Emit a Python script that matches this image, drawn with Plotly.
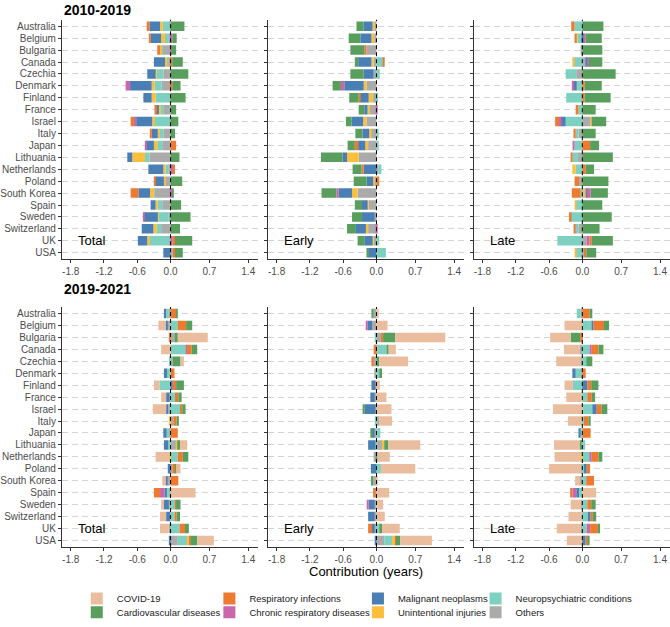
import plotly.graph_objects as go

countries = ["Australia", "Belgium", "Bulgaria", "Canada", "Czechia", "Denmark", "Finland",
             "France", "Israel", "Italy", "Japan", "Lithuania", "Netherlands", "Poland",
             "South Korea", "Spain", "Sweden", "Switzerland", "UK", "USA"]

causes = ["COVID-19", "Cardiovascular diseases", "Respiratory infections",
          "Chronic respiratory diseases", "Malignant neoplasms", "Unintentional injuries",
          "Neuropsychiatric conditions", "Others"]
colors = ["#EBBD9F", "#589E5C", "#EE7A30", "#CC66AA", "#4A7FB5", "#FBBF3C", "#7ED0C0", "#ABABAB"]

period_titles = ["2010-2019", "2019-2021"]
component_labels = ["Total", "Early", "Late"]
tick_vals = [-1.8, -1.2, -0.6, 0.0, 0.7, 1.4]
tick_text = ["-1.8", "-1.2", "-0.6", "0.0", "0.7", "1.4"]

# ---------------- 2010-2019, Total ----------------
a_covid = [0] * 20
a_cvd = [0.25, 0.08, 0.09, 0.19, 0.32, 0.15, 0.27, 0.10, 0.14, 0.08, 0, 0.16, 0, 0.21, 0.02, 0.19, 0.36, 0.17, 0.31, 0.14]
a_resp = [-0.05, -0.03, -0.05, 0.03, 0, 0.03, 0, -0.03, -0.06, -0.02, 0.10, 0, 0.03, -0.02, -0.14, 0, 0, 0, 0.04, 0.04]
a_chr = [0, 0.03, 0.01, 0, 0, -0.08, 0, 0, -0.04, 0, -0.02, 0, 0.05, 0, 0.03, 0, -0.02, 0, 0.04, 0]
a_can = [-0.19, -0.19, 0, -0.20, -0.15, -0.39, -0.15, -0.05, -0.29, -0.11, -0.14, -0.09, -0.27, -0.16, -0.21, -0.09, -0.25, -0.21, -0.17, -0.13]
a_inj = [-0.05, -0.07, -0.02, -0.04, -0.02, -0.05, -0.07, -0.03, -0.03, -0.02, -0.06, -0.23, -0.04, -0.02, -0.07, -0.04, -0.01, -0.06, -0.03, 0]
a_neu = [-0.12, -0.07, -0.02, -0.02, -0.12, -0.13, -0.25, -0.06, -0.28, -0.08, -0.09, -0.08, -0.06, 0, -0.01, -0.08, -0.19, -0.08, -0.37, 0]
a_oth = [-0.02, -0.03, -0.15, -0.04, -0.13, -0.16, -0.02, -0.12, -0.02, -0.13, -0.15, -0.38, -0.03, -0.10, -0.29, -0.15, -0.03, -0.17, -0.02, 0.04]

# ---------------- 2010-2019, Early ----------------
b_covid = [0] * 20
b_cvd = [-0.13, -0.21, -0.25, -0.06, -0.24, -0.15, -0.17, -0.10, -0.10, -0.13, -0.13, -0.39, -0.16, -0.23, -0.27, -0.13, -0.18, -0.16, -0.12, -0.03]
b_resp = [0, 0, -0.04, 0.01, 0, 0, -0.02, 0, 0, 0, -0.06, 0, -0.04, 0.05, 0, 0, 0, 0, 0, 0]
b_chr = [0, 0, 0, 0, 0, -0.06, 0, 0.01, 0, 0, 0, 0, 0, 0, -0.04, 0, 0, 0.02, 0, 0]
b_can = [-0.16, -0.20, 0, -0.24, -0.18, -0.35, -0.16, -0.06, -0.21, -0.12, -0.13, -0.08, -0.23, -0.12, -0.24, -0.10, -0.23, -0.18, -0.15, -0.15]
b_inj = [-0.03, -0.05, 0, -0.04, 0, -0.05, -0.08, -0.03, -0.06, -0.03, -0.05, -0.21, 0, -0.02, -0.10, -0.02, 0, -0.04, -0.02, 0]
b_neu = [0, 0, 0, 0.13, 0.06, 0, 0.03, 0, 0, 0.04, 0.04, 0, 0.06, 0, 0, 0, 0, 0, 0.05, 0.17]
b_oth = [-0.04, -0.04, -0.18, -0.05, -0.05, -0.18, -0.06, -0.13, -0.18, -0.10, -0.15, -0.32, 0.03, -0.04, -0.34, -0.14, -0.03, -0.15, -0.05, 0]

# ---------------- 2010-2019, Late ----------------
c_covid = [0] * 20
c_cvd = [0.38, 0.29, 0.36, 0.24, 0.60, 0.31, 0.47, 0.24, 0.26, 0.24, 0.16, 0.55, 0.15, 0.47, 0.31, 0.36, 0.53, 0.31, 0.38, 0.18]
c_resp = [-0.06, -0.03, 0, 0, 0, 0.04, 0.04, -0.05, -0.07, -0.04, 0.14, -0.03, 0.06, -0.08, -0.16, 0, -0.03, -0.02, 0.04, 0.04]
c_chr = [0, 0.03, 0, 0.02, 0, -0.04, 0, 0, -0.03, 0, -0.02, 0, 0, 0, 0.07, 0, 0, 0, 0.05, 0]
c_can = [0, 0.03, 0, 0.03, 0, -0.05, 0, 0, -0.09, 0, 0, 0, 0, 0, 0.02, 0, 0, 0, 0, 0]
c_inj = [0, -0.02, 0, -0.03, 0, 0, 0, 0, 0.02, 0, 0, 0, -0.06, 0, 0.04, -0.02, 0, 0, 0, -0.02]
c_neu = [-0.13, -0.09, 0, -0.15, -0.19, -0.10, -0.29, -0.07, -0.30, -0.05, -0.14, -0.10, -0.12, 0, -0.03, -0.12, -0.21, -0.06, -0.45, -0.12]
c_oth = [-0.01, 0, -0.03, 0.07, -0.11, 0, 0, 0, 0.15, -0.07, 0, -0.08, 0, -0.06, 0.02, 0, 0, -0.07, 0.08, 0.03]

# ---------------- 2019-2021, Total ----------------
d_covid = [0, -0.13, 0.54, -0.17, 0.06, 0, -0.10, -0.09, -0.24, 0, 0, 0.13, -0.25, 0.08, -0.06, 0.45, -0.05, -0.11, -0.16, 0.30]
d_cvd = [0.03, 0.11, 0.06, 0.10, 0.14, 0, 0.14, 0.06, 0.06, 0.04, 0, 0.05, 0.10, 0.02, 0, 0, 0.08, 0.06, 0.07, 0.12]
d_resp = [0.10, 0.15, -0.03, 0.08, 0, 0.07, 0.06, 0.06, 0.04, 0.06, 0.13, 0, 0.09, 0.05, 0.14, -0.11, 0.02, 0.04, 0.10, 0.03]
d_chr = [0, 0, 0, 0.02, 0, 0, 0, 0, 0, 0, 0, 0, 0, 0, 0, -0.08, 0, 0, 0, 0]
d_can = [-0.04, -0.03, 0, 0, 0, -0.06, 0.04, -0.06, -0.04, 0, -0.06, -0.08, 0, -0.05, -0.04, -0.03, -0.09, -0.07, 0, -0.03]
d_inj = [0, 0, 0, 0, 0, 0, 0, 0, 0, -0.02, 0, 0.02, -0.02, 0, 0, 0, 0, 0, 0, 0.03]
d_neu = [-0.05, 0.13, 0, 0.28, -0.03, -0.06, -0.19, 0.08, 0.17, 0, -0.05, -0.04, 0.13, 0, 0, -0.06, 0.08, 0.07, 0.16, 0.17]
d_oth = [-0.03, -0.06, 0.07, 0, 0.04, 0, -0.01, -0.02, -0.04, 0.05, -0.02, 0.10, 0, 0.03, -0.05, -0.02, -0.03, -0.01, -0.03, 0.13]

# ---------------- 2019-2021, Early ----------------
e_covid = [0.04, 0.20, 0.90, 0.13, 0.52, 0, 0.06, 0.18, 0.27, 0.23, 0, 0.58, 0.22, 0.62, 0.01, 0.23, 0.12, 0.15, 0.32, 0.57]
e_cvd = [-0.04, 0, 0.22, 0.04, 0.05, 0.05, 0, 0, -0.04, 0, -0.03, 0.07, 0.02, 0, -0.04, 0, 0, 0, 0.05, 0.08]
e_resp = [0, 0, 0.04, -0.05, -0.03, 0, 0, 0, 0, 0, 0, 0, 0, 0, 0, -0.04, 0, 0, -0.07, 0.02]
e_chr = [0, -0.03, 0, 0, 0, 0, 0, 0, 0, 0, 0, 0, 0, 0, 0, 0, -0.03, 0, 0, 0]
e_can = [0, -0.08, 0, 0, 0, 0, -0.07, -0.08, -0.19, 0, -0.05, -0.13, 0, -0.10, 0, 0, -0.11, -0.12, -0.05, -0.03]
e_inj = [0, 0, 0, 0, 0, 0, 0, 0, 0, 0, 0, 0.04, 0, 0, 0, 0, 0, 0, 0, 0.05]
e_neu = [0, 0, -0.02, 0.16, 0, 0.05, 0, 0, 0, -0.02, 0.07, -0.02, 0, 0.08, 0, 0, 0, 0, 0.05, 0.14]
e_oth = [-0.05, -0.08, 0.08, 0.02, -0.06, -0.04, -0.02, -0.03, -0.02, 0.05, -0.03, 0.10, -0.05, 0, -0.06, -0.02, -0.03, -0.03, -0.03, 0.14]

# ---------------- 2019-2021, Late ----------------
f_covid = [0, -0.32, -0.37, -0.28, -0.45, 0, -0.15, -0.28, -0.53, -0.26, 0, -0.46, -0.48, -0.58, -0.09, 0.25, -0.19, -0.24, -0.44, -0.27]
f_cvd = [0.05, 0.09, -0.17, 0.09, 0.11, 0, 0.13, 0.06, 0.10, 0.04, 0, -0.04, 0.07, 0, 0, 0, 0.08, 0.06, 0.04, 0.02]
f_resp = [0.13, 0.19, -0.03, 0.12, 0, 0.06, 0.07, 0.08, 0.09, 0.08, 0.15, 0, 0.12, 0.06, 0.14, -0.04, 0.07, 0.04, 0.14, 0.04]
f_chr = [0, 0, 0, 0.04, 0, 0, 0, 0, 0, 0, 0, 0, 0.03, 0, 0, -0.07, 0, 0, 0.06, 0]
f_can = [0, 0.03, 0, 0, 0, -0.06, 0.09, 0, 0.08, 0, -0.03, 0, 0, 0.05, 0, -0.05, 0, 0.05, 0, 0.06]
f_inj = [0, 0, 0, 0, 0, 0, 0, 0, 0, 0, 0, 0, -0.02, 0, 0, 0, 0, 0, 0, 0]
f_neu = [-0.07, 0.17, 0, 0.13, 0.07, -0.10, -0.17, 0.09, 0.18, 0.03, -0.04, 0.05, 0.14, 0.03, 0.07, -0.06, 0.09, 0.10, 0.08, 0]
f_oth = [-0.03, 0, -0.01, -0.05, -0.02, -0.02, 0, -0.01, 0, 0, 0, -0.01, 0, -0.02, -0.04, 0, -0.02, -0.01, -0.02, -0.01]

panels = [
    [a_covid, a_cvd, a_resp, a_chr, a_can, a_inj, a_neu, a_oth],
    [b_covid, b_cvd, b_resp, b_chr, b_can, b_inj, b_neu, b_oth],
    [c_covid, c_cvd, c_resp, c_chr, c_can, c_inj, c_neu, c_oth],
    [d_covid, d_cvd, d_resp, d_chr, d_can, d_inj, d_neu, d_oth],
    [e_covid, e_cvd, e_resp, e_chr, e_can, e_inj, e_neu, e_oth],
    [f_covid, f_cvd, f_resp, f_chr, f_can, f_inj, f_neu, f_oth],
]

W, H = 670, 627
FONT = "Liberation Sans, Arial, sans-serif"
legend_names = ["legend", "legend2", "legend3", "legend4", "legend5", "legend6", "legend7", "legend8"]

fig = go.Figure()

# stacking order: trace added first sits nearest to zero -> reverse cause order
for k, pdata in enumerate(panels):
    ax = "" if k == 0 else str(k + 1)
    for ci in reversed(range(len(causes))):
        fig.add_trace(go.Bar(
            y=countries, x=pdata[ci], orientation="h",
            name=causes[ci], marker=dict(color=colors[ci], line=dict(width=0)),
            width=0.8,
            xaxis="x" + ax, yaxis="y" + ax,
            showlegend=(k == 0), legend=legend_names[ci],
        ))

layout = dict(
    width=W, height=H, margin=dict(l=0, r=0, t=0, b=0),
    plot_bgcolor="white", paper_bgcolor="white",
    barmode="relative", font=dict(family=FONT, color="#1a1a1a"),
)

row_dom = [[1 - 263 / H, 1 - 20 / H], [1 - 555 / H, 1 - 311.5 / H]]
shapes = []
annotations = []
for k in range(6):
    r, c = divmod(k, 3)
    ax = "" if k == 0 else str(k + 1)
    x0 = 60 + c * 206.5
    layout["xaxis" + ax] = dict(
        domain=[x0 / W, min((x0 + 197) / W, 1.0)], anchor="y" + ax,
        range=[-1.96, 1.58], tickvals=tick_vals, ticktext=tick_text,
        showline=True, linecolor="#333333", linewidth=0.8,
        ticks="outside", ticklen=3, tickcolor="#333333", tickwidth=0.8,
        tickfont=dict(size=10, color="#4d4d4d"),
        showgrid=False, zeroline=False, fixedrange=True,
    )
    layout["yaxis" + ax] = dict(
        domain=row_dom[r], anchor="x" + ax, type="category",
        categoryorder="array", categoryarray=countries,
        tickmode="array", tickvals=countries, ticktext=countries,
        range=[19.55, -0.55],
        showline=True, linecolor="#333333", linewidth=0.8,
        ticks="outside", ticklen=3, tickcolor="#333333", tickwidth=0.8,
        showticklabels=(c == 0), tickfont=dict(size=10, color="#4d4d4d"),
        showgrid=True, gridcolor="#d4d4d4", gridwidth=0.8, griddash="6px,4px",
        zeroline=False, fixedrange=True,
    )
    shapes.append(dict(type="line", xref="x" + ax, yref="y" + ax + " domain",
                       x0=0, x1=0, y0=0, y1=1,
                       line=dict(color="black", width=1, dash="4px,3px")))
    annotations.append(dict(xref="x" + ax, yref="y" + ax, x=-1.7, y="UK",
                            text=component_labels[c], showarrow=False,
                            xanchor="left", yanchor="middle",
                            font=dict(size=13, color="black")))

annotations.append(dict(xref="paper", yref="paper", x=60 / W, y=1 - 10 / H,
                        text="<b>" + period_titles[0] + "</b>", showarrow=False,
                        xanchor="left", yanchor="middle", font=dict(size=14, color="black")))
annotations.append(dict(xref="paper", yref="paper", x=60 / W, y=1 - 293 / H,
                        text="<b>" + period_titles[1] + "</b>", showarrow=False,
                        xanchor="left", yanchor="middle", font=dict(size=14, color="black")))
annotations.append(dict(xref="paper", yref="paper", x=(266.5 + 98.5) / W, y=1 - 580 / H,
                        text="Contribution (years)", showarrow=False,
                        xanchor="center", yanchor="middle", font=dict(size=13, color="black")))

layout["shapes"] = shapes
layout["annotations"] = annotations

# legend placement: 4 columns x 2 rows, filled column-wise
text_x = [112, 112, 245, 245, 394, 394, 512, 512]
row_y = [605, 619, 605, 619, 605, 619, 605, 619]
for i, ln in enumerate(legend_names):
    layout[ln] = dict(
        x=(text_x[i] - 37) / W, y=1 - (row_y[i] - 12.5) / H, xanchor="left", yanchor="top",
        orientation="v", bgcolor="rgba(0,0,0,0)", borderwidth=0,
        font=dict(size=9.5, color="#1a1a1a"), itemwidth=30,
        itemclick=False, itemdoubleclick=False,
    )

fig.update_layout(**layout)
fig.write_html("out.html")
